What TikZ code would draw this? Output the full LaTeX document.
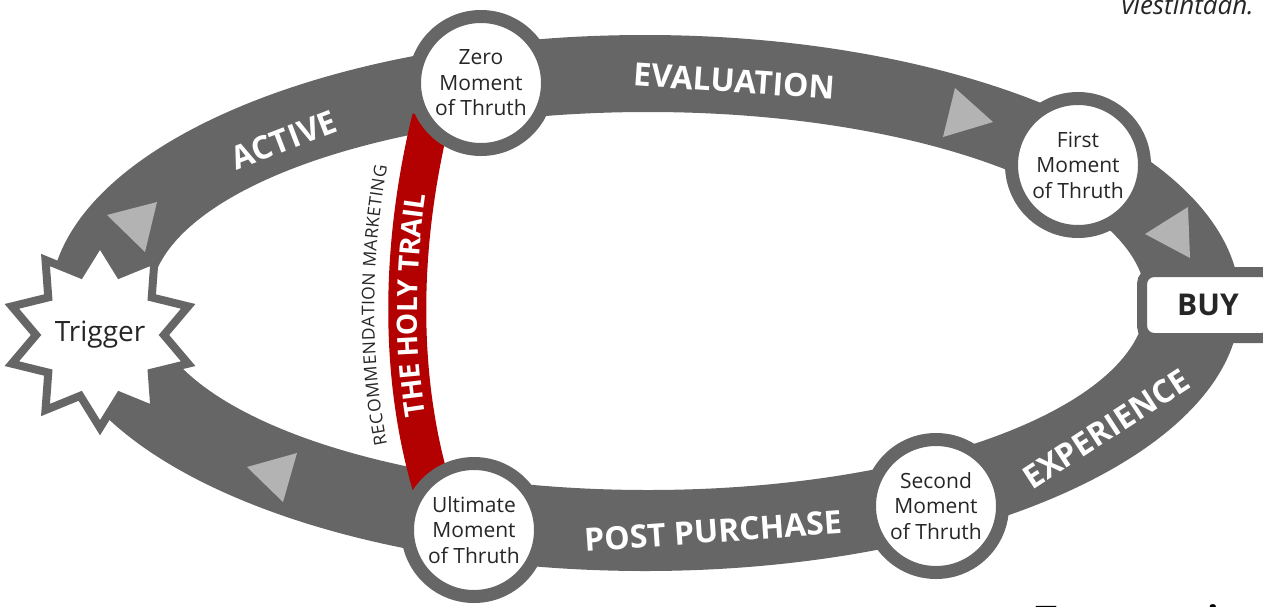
\documentclass[tikz,border=0pt]{standalone}
\usepackage{fontspec}
\setmainfont{Open Sans}
\usetikzlibrary{shapes.geometric, decorations.text}

\definecolor{trackgray}{HTML}{666666}
\definecolor{arrowgray}{HTML}{B3B3B3}
\definecolor{trailred}{HTML}{B30000}
\definecolor{textdark}{HTML}{262626}

\newcommand\momentfont{\fontsize{21}{25.5}\selectfont}
\newcommand\trackfont{\fontsize{32}{32}\selectfont\bfseries}
\newcommand\trailfont{\fontsize{28}{28}\selectfont\bfseries}
\newcommand\recfont{\fontsize{17.5}{17.5}\selectfont}

\tikzset{
  moment/.style = {
    circle, draw=trackgray, line width=13pt,
    fill=white, minimum size=133pt, inner sep=0pt,
    align=center, text=textdark, font=\momentfont
  },
  burst/.style = {
    star, star points=10, star point ratio=1.45,
    draw=trackgray, line width=8pt, fill=white,
    minimum size=170pt, inner sep=0pt,
    text=textdark, font=\fontsize{28}{28}\selectfont
  },
  buybox/.style = {
    rectangle, rounded corners=12pt,
    draw=trackgray, line width=10pt, fill=white,
    minimum width=132pt, minimum height=66pt,
    text=textdark, font=\fontsize{30}{30}\selectfont\bfseries
  },
  tracklabel/.style = {text=white, font=\trackfont, inner sep=0pt},
  trail/.style = {draw=trailred, line width=38pt},
  pointer/.style = {fill=arrowgray},
}

\begin{document}
\begin{tikzpicture}[x=1pt, y=-1pt]
  \useasboundingbox (0,0) rectangle (1263,606);
  \clip (0,0) rectangle (1263,606);

  % the loop
  \fill[trackgray, even odd rule]
    (645,303) ellipse [x radius=595, y radius=268]
    (648,301) ellipse [x radius=498, y radius=189];

  % shortcut between zero and ultimate moment
  \draw[trail] (431,118) .. controls (399,250) and (399,380) .. (433,492);

  % direction marks
  \fill[pointer] (943,137) -- (955,88) -- (993,122) -- cycle;
  \fill[pointer] (1145,234) -- (1188,207) -- (1190,258) -- cycle;
  \fill[pointer] (247,467) -- (297,453) -- (283,502) -- cycle;
  \fill[pointer] (107,215) -- (157,202) -- (145,252) -- cycle;

  % moments of truth
  \node[moment] (zero)     at (481,83)   {Zero\\Moment\\of Thruth};
  \node[moment] (first)    at (1078,165) {First\\Moment\\of Thruth};
  \node[moment] (second)   at (936,506)  {Second\\Moment\\of Thruth};
  \node[moment] (ultimate) at (474,530)  {Ultimate\\Moment\\of Thruth};

  \node[burst]  (trigger)  at (100,335)  {Trigger};
  \node[buybox] (buy)      at (1208,305) {BUY};

  % phase names on the loop
  \node[tracklabel, rotate=21] (active)     at (284,140)  {ACTIVE};
  \node[tracklabel, rotate=-4] (evaluation) at (734,81)   {EVALUATION};
  \node[tracklabel, rotate=33] (experience) at (1106,429) {EXPERIENCE};
  \node[tracklabel, rotate=4]  (postbuy)    at (713,531)  {POST PURCHASE};

  % curved texts along the shortcut
  \path[decorate, decoration={text along path, text align=center,
        raise=-10pt, text color=white,
        text={|\trailfont|THE HOLY TRAIL}}]
    (433,492) .. controls (399,380) and (399,250) .. (431,118);
  \path[decorate, decoration={text along path, text align=center,
        raise=33pt, text color=textdark,
        text={|\recfont|RECOMMENDATION MARKETING}}]
    (433,492) .. controls (399,380) and (399,250) .. (431,118);

  % cut-off texts at the edges
  \node[anchor=base east, inner sep=0pt, text=textdark,
        font=\fontsize{26}{26}\selectfont\itshape] (note) at (1254,14)
    {viestintaan.};
  \node[anchor=base west, inner sep=0pt, text=black,
        font=\fontsize{38}{38}\selectfont\bfseries] (caption) at (1035,633)
    {Tuttavat ja};
\end{tikzpicture}
\end{document}
